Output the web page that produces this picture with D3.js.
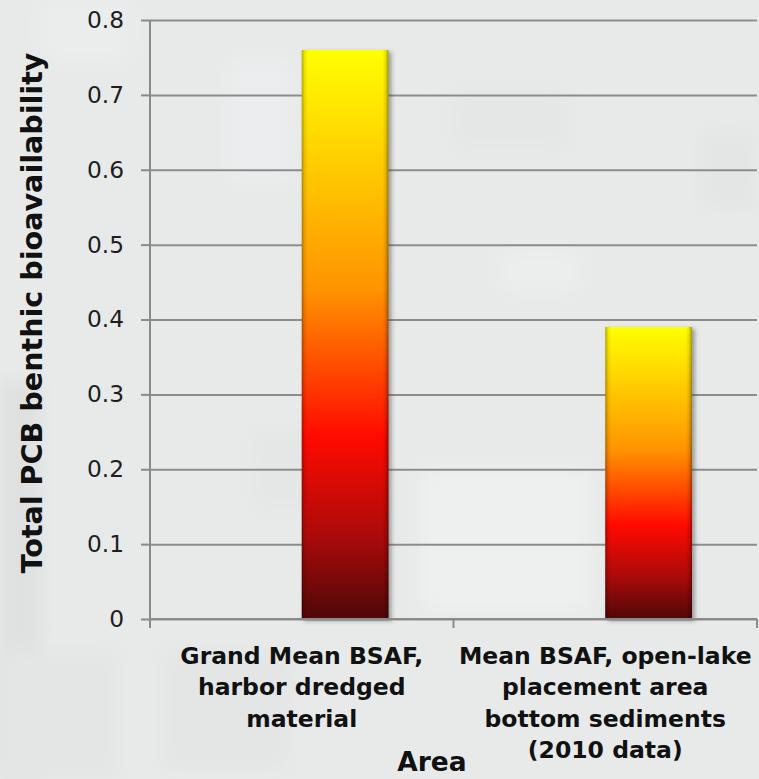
<!DOCTYPE html>
<html>
<head>
<meta charset="utf-8">
<script src="https://cdn.jsdelivr.net/npm/d3@7"></script>
<style>
  html, body { margin: 0; padding: 0; background: #e8eaea; }
  svg { display: block; }
</style>
</head>
<body>
<svg id="chart" width="759" height="779"></svg>
<script>
// Benthic bioavailability (BSAF) of total PCBs by area
const categories = [
  ["Grand Mean BSAF,", "harbor dredged", "material"],
  ["Mean BSAF, open-lake", "placement area", "bottom sediments", "(2010 data)"]
];
const categoryKeys = ["harbor", "openlake"];
const slots = ["(blank)", "BSAF"];          // clustered slots; only BSAF holds data
const bsafValues = [0.76, 0.39];
const yTicks = [0, 0.1, 0.2, 0.3, 0.4, 0.5, 0.6, 0.7, 0.8];
const yTitle = "Total PCB benthic bioavailability";
const xTitle = "Area";

const W = 759, H = 779;
const plot = { left: 150, right: 757, top: 20, bottom: 619 };

const svg = d3.select("#chart");
const defs = svg.append("defs");

// soft backdrop texture
const haze = defs.append("filter").attr("id", "haze")
  .attr("x", "-30%").attr("y", "-30%").attr("width", "160%").attr("height", "160%");
haze.append("feGaussianBlur").attr("stdDeviation", 9);

const bg = svg.append("g");
bg.append("rect").attr("width", W).attr("height", H).attr("fill", "#e8eaea");
const patches = [
  [0, 380, 40, 399, "#dfe1e1"], [40, 0, 90, 60, "#ebeded"],
  [420, 470, 170, 140, "#eef0f0"], [160, 650, 130, 120, "#e4e6e6"],
  [700, 130, 59, 80, "#e4e6e6"], [450, 90, 120, 60, "#e5e7e7"],
  [230, 60, 60, 120, "#ecedee"], [500, 250, 80, 40, "#eceeee"],
  [250, 430, 70, 80, "#e5e7e7"], [0, 650, 120, 129, "#e4e6e6"]
];
patches.forEach(p => bg.append("rect")
  .attr("x", p[0]).attr("y", p[1]).attr("width", p[2]).attr("height", p[3])
  .attr("fill", p[4]).attr("filter", "url(#haze)"));

// Scales
const y = d3.scaleLinear().domain([0, 0.8]).range([plot.bottom, plot.top]);
const x = d3.scaleBand().domain(categoryKeys).range([plot.left, plot.right]).padding(0);
const xs = d3.scaleBand().domain(slots).range([0, x.bandwidth()])
  .paddingInner(0).paddingOuter(0.75);

// Gridlines
svg.append("g")
  .attr("transform", `translate(${plot.left},0)`)
  .call(d3.axisLeft(y).tickValues(yTicks).tickSize(-(plot.right - plot.left)).tickFormat(""))
  .call(g => g.select(".domain").remove())
  .call(g => g.selectAll("line").attr("stroke", "#8c8c8c").attr("stroke-width", 2));

// Bar fills
const grad = defs.append("linearGradient").attr("id", "barFill")
  .attr("x1", 0).attr("y1", 0).attr("x2", 0).attr("y2", 1);
[[0, "#ffff00"], [0.12, "#ffe100"], [0.42, "#ff9400"], [0.68, "#ff0a00"],
 [0.86, "#a80a0a"], [1, "#4e0808"]]
  .forEach(s => grad.append("stop").attr("offset", s[0]).attr("stop-color", s[1]));

const bevel = defs.append("linearGradient").attr("id", "barBevel")
  .attr("x1", 0).attr("y1", 0).attr("x2", 1).attr("y2", 0);
[[0, "rgba(0,0,0,0.30)"], [0.035, "rgba(0,0,0,0.08)"], [0.07, "rgba(0,0,0,0)"],
 [0.93, "rgba(0,0,0,0)"], [0.965, "rgba(0,0,0,0.10)"], [1, "rgba(0,0,0,0.38)"]]
  .forEach(s => bevel.append("stop").attr("offset", s[0]).attr("stop-color", s[1]));

const shadow = defs.append("filter").attr("id", "barShadow")
  .attr("x", "-20%").attr("y", "-5%").attr("width", "140%").attr("height", "110%");
shadow.append("feGaussianBlur").attr("stdDeviation", 2);

const bars = svg.append("g").selectAll("g")
  .data(bsafValues.map((v, i) => ({ key: categoryKeys[i], value: v })))
  .join("g")
  .attr("transform", d => `translate(${x(d.key) + xs("BSAF")},0)`);

bars.append("rect")
  .attr("x", 3).attr("y", d => y(d.value) + 2)
  .attr("width", xs.bandwidth()).attr("height", d => y(0) - y(d.value))
  .attr("fill", "rgba(60,60,60,0.45)").attr("filter", "url(#barShadow)");
bars.append("rect")
  .attr("x", 0).attr("y", d => y(d.value))
  .attr("width", xs.bandwidth()).attr("height", d => y(0) - y(d.value))
  .attr("fill", "url(#barFill)");
bars.append("rect")
  .attr("x", 0).attr("y", d => y(d.value))
  .attr("width", xs.bandwidth()).attr("height", d => y(0) - y(d.value))
  .attr("fill", "url(#barBevel)");

// Y axis
svg.append("g")
  .attr("transform", `translate(${plot.left},0)`)
  .call(d3.axisLeft(y).tickValues(yTicks).tickSize(9).tickPadding(17)
    .tickFormat(d => d === 0 ? "0" : d3.format(".1f")(d)))
  .call(g => g.select(".domain").attr("d", `M0,${plot.top}V${plot.bottom + 9}`))
  .call(g => g.selectAll("path,line").attr("stroke", "#8a8a8a").attr("stroke-width", 2))
  .call(g => g.selectAll("text")
    .attr("font-family", "DejaVu Sans").attr("font-size", 23.3).attr("fill", "#1e1e1e"));

// X axis
const xTickPos = [plot.left, ...categoryKeys.map(k => x(k) + x.bandwidth())];
const xa = svg.append("g");
xa.append("line").attr("x1", plot.left).attr("x2", plot.right)
  .attr("y1", plot.bottom).attr("y2", plot.bottom)
  .attr("stroke", "#8a8a8a").attr("stroke-width", 2);
xa.selectAll("line.tk").data(xTickPos).join("line").attr("class", "tk")
  .attr("x1", d => d).attr("x2", d => d)
  .attr("y1", plot.bottom).attr("y2", plot.bottom + 9)
  .attr("stroke", "#8a8a8a").attr("stroke-width", 2);

// Category labels
const catLabels = svg.append("g")
  .attr("font-family", "DejaVu Sans").attr("font-weight", "bold")
  .attr("font-size", 23.5).attr("fill", "#111").attr("text-anchor", "middle");
categories.forEach((lines, i) => {
  const t = catLabels.append("text")
    .attr("x", x(categoryKeys[i]) + x.bandwidth() / 2).attr("y", 664);
  lines.forEach((ln, j) => t.append("tspan")
    .attr("x", x(categoryKeys[i]) + x.bandwidth() / 2)
    .attr("y", 664 + j * 31.3).text(ln));
});

// Axis titles
svg.append("text")
  .attr("transform", "translate(42,313) rotate(-90)")
  .attr("text-anchor", "middle")
  .attr("font-family", "DejaVu Sans").attr("font-weight", "bold")
  .attr("font-size", 28.6).attr("fill", "#111")
  .text(yTitle);

svg.append("text")
  .attr("x", 432).attr("y", 771)
  .attr("text-anchor", "middle")
  .attr("font-family", "DejaVu Sans").attr("font-weight", "bold")
  .attr("font-size", 26.5).attr("fill", "#111")
  .text(xTitle);
</script>
</body>
</html>
